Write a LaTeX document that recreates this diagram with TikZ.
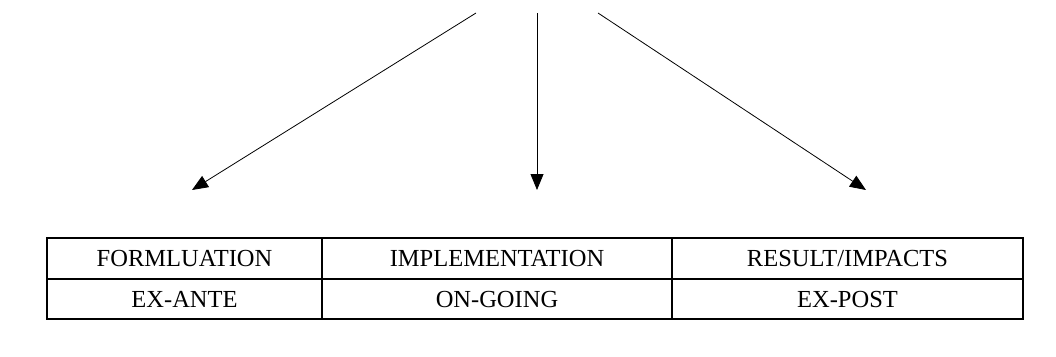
\documentclass[tikz,border=0pt]{standalone}
\usepackage{fontspec}
\setmainfont{Liberation Serif}
\usetikzlibrary{arrows.meta}
\begin{document}
\begin{tikzpicture}[x=1pt,y=-1pt,
  arr/.style={line width=0.8pt,-{Triangle[length=16pt,width=13pt]}},
  grid/.style={line width=1.6pt,line cap=rect},
  celltext/.style={font=\fontsize{24.5pt}{28pt}\selectfont,anchor=base,inner sep=0pt}]
\useasboundingbox (0,0) rectangle (1056,356);
% arrow origins and targets
\coordinate (sL) at (476,13);
\coordinate (sC) at (537,13);
\coordinate (sR) at (598,13);
\coordinate (tL) at (192,190);
\coordinate (tC) at (537,190);
\coordinate (tR) at (866,190);
\draw[arr] (sL) -- (tL);
\draw[arr] (sC) -- (tC);
\draw[arr] (sR) -- (tR);
% table
\draw[grid] (47,238) rectangle (1023,319);
\draw[grid] (47,279) -- (1023,279);
\draw[grid] (322,238) -- (322,319);
\draw[grid] (672,238) -- (672,319);
\node[celltext] (f) at (184.5,266.5) {FORMLUATION};
\node[celltext] (i) at (497,266.5) {IMPLEMENTATION};
\node[celltext] (r) at (847.5,266.5) {RESULT/IMPACTS};
\node[celltext] (ea) at (184.5,307.5) {EX-ANTE};
\node[celltext] (og) at (497,307.5) {ON-GOING};
\node[celltext] (ep) at (847.5,307.5) {EX-POST};
\end{tikzpicture}
\end{document}
